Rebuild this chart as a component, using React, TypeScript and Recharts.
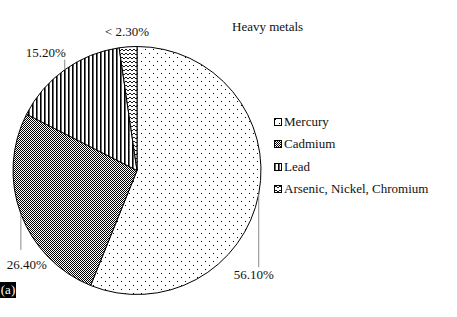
import React from "react";
import { PieChart, Pie, Cell, Legend } from "recharts";

const metals = ["Mercury", "Cadmium", "Lead", "Arsenic, Nickel, Chromium"];
const shares = [56.1, 26.4, 15.2, 2.3];
const sliceLabels = ["56.10%", "26.40%", "15.20%", "< 2.30%"];
const patternIds = ["pDots", "pChecker", "pVLines", "pZigzag"];

const data = metals.map((name, i) => ({ name, value: shares[i], label: sliceLabels[i] }));

const labelLayout = [
  { lineDy: 73, textDx: -5, textDy: 80 },
  { lineDy: 36, textDx: 6, textDy: 51 },
  { lineDy: -10, textDx: -19, textDy: -17 },
  { lineDy: 0, textDx: -1, textDy: -15 },
];

const FONT = "'Liberation Serif', 'Times New Roman', serif";
const RAD = Math.PI / 180;

const renderLabel = (props: any) => {
  const { cx, cy, midAngle, outerRadius, index } = props;
  const ax = cx + outerRadius * Math.cos(-midAngle * RAD);
  const ay = cy + outerRadius * Math.sin(-midAngle * RAD);
  const l = labelLayout[index];
  return (
    <g key={`lbl-${index}`}>
      {l.lineDy !== 0 && (
        <line x1={ax} y1={ay} x2={ax} y2={ay + l.lineDy} stroke="#8a8a8a" strokeWidth={1} />
      )}
      <text
        x={ax + l.textDx}
        y={ay + l.textDy}
        textAnchor="middle"
        dominantBaseline="central"
        fontFamily={FONT}
        fontSize={13}
        fill="#111"
      >
        {data[index].label}
      </text>
    </g>
  );
};

const renderLegend = () => (
  <div style={{ fontFamily: FONT, fontSize: 13, color: "#111" }}>
    {metals.map((m, i) => (
      <div key={m} style={{ display: "flex", alignItems: "center", height: 22.3 }}>
        <svg width={8} height={8} style={{ marginRight: 2 }}>
          <rect x={0.5} y={0.5} width={7} height={7} fill={`url(#${patternIds[i]})`} stroke="#000" strokeWidth={1} />
        </svg>
        <span style={{ whiteSpace: "nowrap" }}>{m}</span>
      </div>
    ))}
  </div>
);

export default function App() {
  return (
    <div style={{ position: "absolute", left: 0, top: 0, width: 457, height: 317, background: "#fff" }}>
      <svg width={0} height={0} style={{ position: "absolute" }}>
        <defs>
          <pattern id="pDots" width={8} height={8} patternUnits="userSpaceOnUse">
            <rect width={8} height={8} fill="#fff" />
            <rect x={1} y={1} width={1} height={1} fill="#000" />
            <rect x={5} y={5} width={1} height={1} fill="#000" />
          </pattern>
          <pattern id="pChecker" width={2} height={2} patternUnits="userSpaceOnUse">
            <rect width={2} height={2} fill="#fff" />
            <rect x={0} y={0} width={1} height={1} fill="#000" />
            <rect x={1} y={1} width={1} height={1} fill="#000" />
          </pattern>
          <pattern id="pVLines" width={4} height={4} patternUnits="userSpaceOnUse">
            <rect width={4} height={4} fill="#fff" />
            <rect x={0} y={0} width={1.6} height={4} fill="#000" />
          </pattern>
          <pattern id="pZigzag" width={4} height={4} patternUnits="userSpaceOnUse">
            <rect width={4} height={4} fill="#fff" />
            <path d="M0 3 L2 1 L4 3" fill="none" stroke="#000" strokeWidth={0.9} />
          </pattern>
        </defs>
      </svg>
      <PieChart width={457} height={317} margin={{ top: 0, right: 0, bottom: 0, left: 0 }}>
        <Pie
          data={data}
          dataKey="value"
          nameKey="name"
          cx={137}
          cy={170.5}
          outerRadius={124}
          startAngle={90}
          endAngle={-270}
          stroke="#000"
          strokeWidth={1}
          label={renderLabel}
          labelLine={false}
          isAnimationActive={false}
        >
          {data.map((d, i) => (
            <Cell key={d.name} fill={`url(#${patternIds[i]})`} />
          ))}
        </Pie>
        <Legend
          content={renderLegend}
          layout="vertical"
          wrapperStyle={{ left: 274, top: 111, width: 180 }}
        />
      </PieChart>
      <div
        style={{
          position: "absolute",
          left: 232,
          top: 19,
          fontFamily: FONT,
          fontSize: 13,
          color: "#111",
          whiteSpace: "nowrap",
        }}
      >
        Heavy metals
      </div>
      <div
        style={{
          position: "absolute",
          left: 0,
          top: 282,
          width: 16,
          height: 16,
          background: "#000",
          color: "#fff",
          fontFamily: FONT,
          fontSize: 13,
          lineHeight: "16px",
          textAlign: "center",
        }}
      >
        (a)
      </div>
    </div>
  );
}
